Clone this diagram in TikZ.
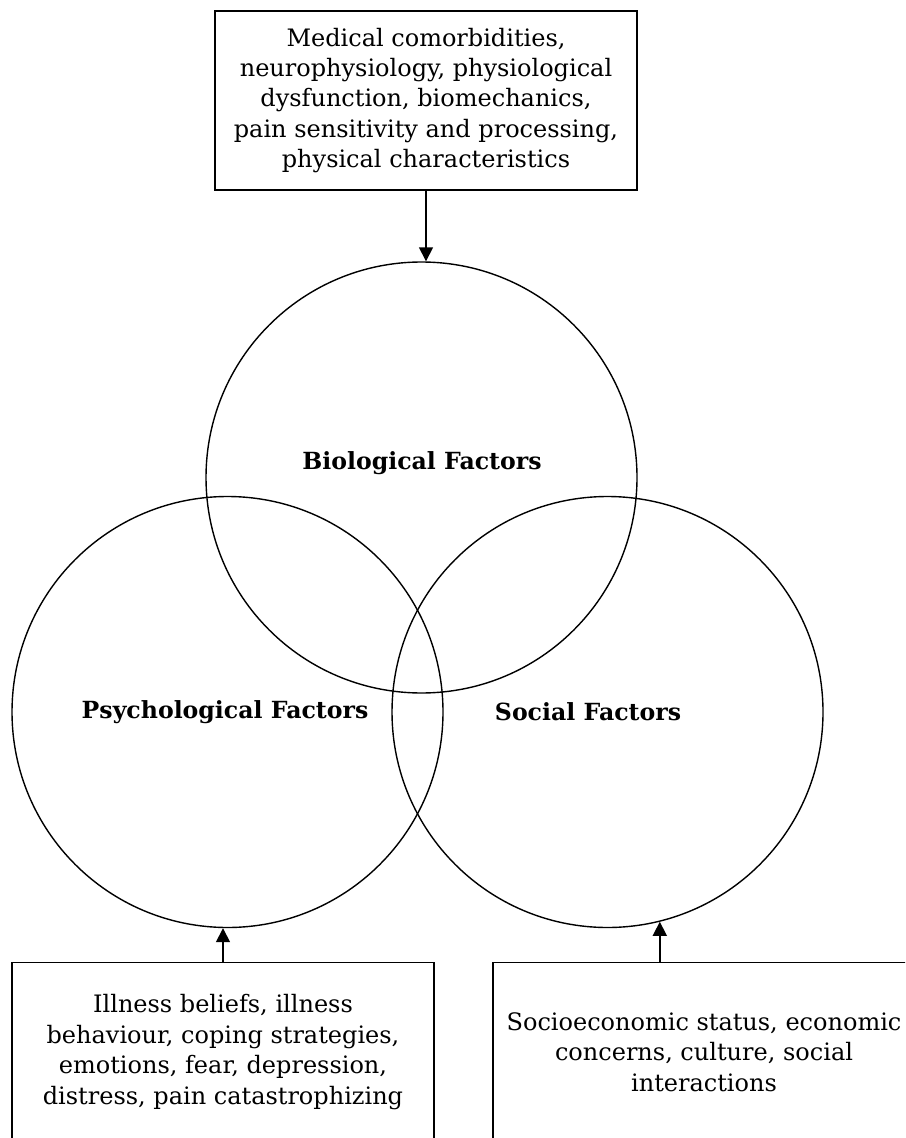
\documentclass[tikz,border=0pt]{standalone}
\usepackage{fontspec}
\setmainfont{DejaVu Serif}
\usetikzlibrary{arrows.meta}
\begin{document}
\begin{tikzpicture}[x=0.5pt,y=-0.5pt,
  ring/.style={circle,draw,line width=0.7pt,minimum size=215.5pt,inner sep=0pt},
  infobox/.style={draw,line width=0.8pt,minimum width=211pt,minimum height=89.5pt,
    align=center,inner sep=0pt,font=\fontsize{12}{15.2}\selectfont},
  factor/.style={font=\fontsize{11.8}{15}\selectfont\bfseries},
  arr/.style={line width=0.8pt,-{Triangle[width=7pt,length=7pt]}}]
\useasboundingbox (0,0) rectangle (905,1138);
\clip (0,0) rectangle (905,1138);

% the three overlapping circles
\node[ring] (bio) at (421.5,477.5) {};
\node[ring] (psy) at (227.5,712) {};
\node[ring] (soc) at (607.5,712) {};

\node[factor] (biolabel) at (422,463) {Biological Factors};
\node[factor] (psylabel) at (225,712) {Psychological Factors};
\node[factor] (soclabel) at (588,712) {Social Factors};

% boxes of contributing factors
\node[infobox] (biobox) at (426,100.5) {Medical comorbidities,\\
  neurophysiology, physiological\\ dysfunction, biomechanics,\\
  pain sensitivity and processing,\\ physical characteristics};
\node[infobox] (psybox) at (223,1052) {Illness beliefs, illness\\
  behaviour, coping strategies,\\ emotions, fear, depression,\\
  distress, pain catastrophizing};
\node[infobox] (socbox) at (704,1052) {Socioeconomic status, economic\\
  concerns, culture, social\\ interactions};

% arrows into the circles
\draw[arr] (biobox.south) -- (biobox.south |- bio.north);
\draw[arr] (psybox.north) -- (psybox.north |- psy.south);
\draw[arr] (soc.-76 |- socbox.north) -- (soc.-76);
\end{tikzpicture}
\end{document}
